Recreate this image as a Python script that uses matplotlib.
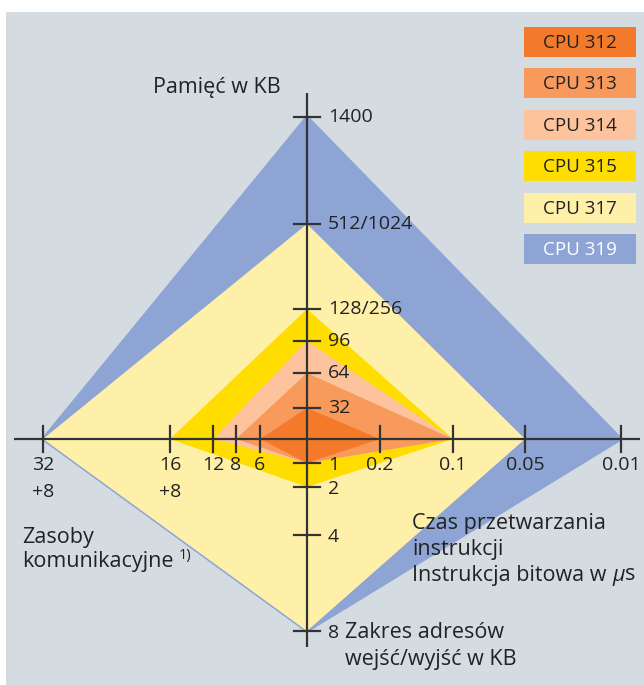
import matplotlib
matplotlib.use("Agg")
import matplotlib.pyplot as plt
from matplotlib.patches import Polygon, Rectangle

plt.rcParams['font.family'] = ['Open Sans', 'DejaVu Sans']

# ---- data ----
cpus = ["CPU 312", "CPU 313", "CPU 314", "CPU 315", "CPU 317", "CPU 319"]
colors = ["#F47A2B", "#F79A5B", "#FDC39D", "#FFDD00", "#FFF0A9", "#8DA4D5"]
text_colors = ["#222222", "#222222", "#222222", "#222222", "#222222", "#FFFFFF"]

mem_ticks = ["32", "64", "96", "128/256", "512/1024", "1400"]          # up axis
time_ticks = ["0.2", "0.1", "0.05", "0.01"]                          # right axis
io_ticks = ["1", "2", "4", "8"]                                      # down axis
comm_ticks = ["6", "8", "12", "16\n+8", "32\n+8"]                     # left axis

cpu_mem = ["32", "64", "96", "128/256", "512/1024", "1400"]
cpu_time = ["0.2", "0.1", "0.1", "0.1", "0.05", "0.01"]
cpu_io = ["1", "1", "1", "2", "8", "8"]
cpu_comm = ["6", "8", "12", "16\n+8", "32\n+8", "32\n+8"]

# ---- layout (pixel-like data coordinates) ----
W, H = 644, 685
cx, cy = 307, 439
mem_r = [31, 66, 98, 130, 215, 322]
time_r = [73, 146, 218, 314]
io_r = [24, 48, 96, 192]
comm_r = [47, 71, 94, 137, 264]

mem_pos = dict(zip(mem_ticks, mem_r))
time_pos = dict(zip(time_ticks, time_r))
io_pos = dict(zip(io_ticks, io_r))
comm_pos = dict(zip(comm_ticks, comm_r))

fig = plt.figure(figsize=(W / 100, H / 100), dpi=100, facecolor="white")
ax = fig.add_axes([0, 0, 1, 1])
ax.set_xlim(0, W)
ax.set_ylim(H, 0)
ax.axis("off")

bg = "#D4DCE2"
ax.add_patch(Rectangle((6, 12), W - 6, H - 12, facecolor=bg, edgecolor="none", zorder=0))

# polygons, largest first
for i in range(len(cpus) - 1, -1, -1):
    pts = [(cx, cy - mem_pos[cpu_mem[i]]),
           (cx + time_pos[cpu_time[i]], cy),
           (cx, cy + io_pos[cpu_io[i]]),
           (cx - comm_pos[cpu_comm[i]], cy)]
    ec = colors[i] if i == len(cpus) - 1 else "none"
    ax.add_patch(Polygon(pts, closed=True, facecolor=colors[i], edgecolor=ec,
                         linewidth=2.2, zorder=1 + (len(cpus) - i)))

# axes lines
lc = "#333333"
lw = 1.6
ax.plot([14, 640], [cy, cy], color=lc, lw=lw, zorder=20, solid_capstyle="butt")
ax.plot([cx, cx], [93, 647], color=lc, lw=lw, zorder=20, solid_capstyle="butt")
tl = 13
fs = 14
fs_t = 15.5
tc = "#222222"
for lab, r in zip(mem_ticks, mem_r):
    ax.plot([cx - tl, cx + tl], [cy - r, cy - r], color=lc, lw=lw, zorder=20)
    ax.text(cx + 21, cy - r, lab, ha="left", va="center", fontsize=fs, color=tc, zorder=21)
for lab, r in zip(io_ticks, io_r):
    ax.plot([cx - tl, cx + tl], [cy + r, cy + r], color=lc, lw=lw, zorder=20)
    ax.text(cx + 21, cy + r + 2, lab, ha="left", va="center", fontsize=fs, color=tc, zorder=21)
for lab, r in zip(time_ticks, time_r):
    ax.plot([cx + r, cx + r], [cy - tl, cy + tl], color=lc, lw=lw, zorder=20)
    ax.text(cx + r, cy + 26, lab, ha="center", va="center", fontsize=fs, color=tc, zorder=21)
for lab, r in zip(comm_ticks, comm_r):
    ax.plot([cx - r, cx - r], [cy - tl, cy + tl], color=lc, lw=lw, zorder=20)
    for k, part in enumerate(lab.split("\n")):
        ax.text(cx - r, cy + 26 + 27 * k, part, ha="center", va="center",
                fontsize=fs, color=tc, zorder=21)

# axis titles
def lines(x, y0, parts, dy=26, size=fs_t):
    out = []
    for k, p in enumerate(parts):
        out.append(ax.text(x, y0 + dy * k, p, ha="left", va="center",
                           fontsize=size, color=tc, zorder=21))
    return out

ax.text(281, 87, "Pamięć w KB", ha="right", va="center", fontsize=fs_t, color=tc)
lines(345, 633, ["Zakres adresów", "wejść/wyjść w KB"], dy=27)
zt = lines(22, 537, ["Zasoby", "komunikacyjne"], dy=25)
fig.canvas.draw()
inv = ax.transData.inverted()
bbk = zt[1].get_window_extent()
xk = inv.transform((bbk.x1, bbk.y0))[0]
ax.text(xk + 5, 556, "1)", ha="left", va="center", fontsize=10.5, color=tc)

lt = lines(412, 523, ["Czas przetwarzania", "instrukcji", "Instrukcja bitowa w "], dy=26)
fig.canvas.draw()
bb = lt[2].get_window_extent()
x_end = inv.transform((bb.x1, bb.y0))[0]
t_mu = ax.text(x_end, 575, "µ", ha="left", va="center", fontsize=fs_t, color=tc,
               style="italic")
fig.canvas.draw()
bb2 = t_mu.get_window_extent()
x_end2 = inv.transform((bb2.x1, bb2.y0))[0]
ax.text(x_end2, 575, "s", ha="left", va="center", fontsize=fs_t, color=tc)

# legend boxes
bx, bw, bh = 524, 112, 30
for i, name in enumerate(cpus):
    y0 = 27 + i * 41.4
    ax.add_patch(Rectangle((bx, y0), bw, bh, facecolor=colors[i], edgecolor="none", zorder=5))
    ax.text(bx + bw / 2, y0 + bh / 2 + 1, name, ha="center", va="center",
            fontsize=13.5, color=text_colors[i], zorder=6)

fig.savefig("out.png", dpi=100, facecolor="white")
